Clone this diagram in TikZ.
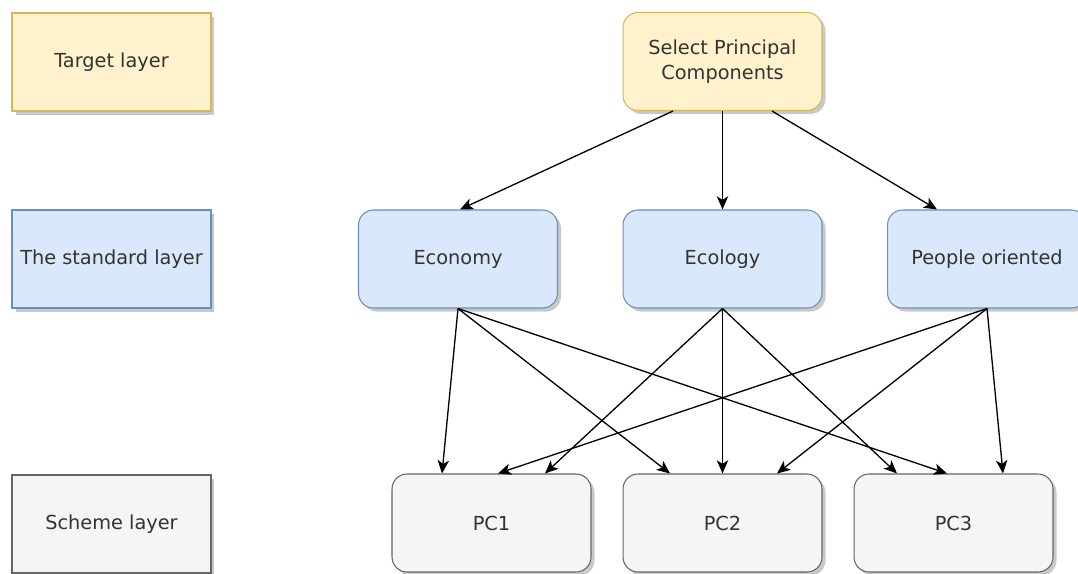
\documentclass[tikz,border=0pt]{standalone}
\usepackage{fontspec}
\setmainfont{DejaVu Sans}
\usetikzlibrary{arrows.meta,shadows}

\definecolor{yelfill}{HTML}{FFF2CC}
\definecolor{yeldraw}{HTML}{D6B656}
\definecolor{bluefill}{HTML}{DAE8FC}
\definecolor{bluedraw}{HTML}{6C8EBF}
\definecolor{grayfill}{HTML}{F5F5F5}
\definecolor{graydraw}{HTML}{666666}
\definecolor{txtgray}{HTML}{333333}

\begin{document}
\begin{tikzpicture}[x=0.02cm, y=-0.02cm, font=\fontsize{11pt}{14pt}\selectfont]

\tikzstyle{box} = [rectangle, text centered, align=center, minimum width=3.98cm, minimum height=1.96cm, inner sep=1pt, drop shadow={shadow xshift=2pt, shadow yshift=-2pt, opacity=0.3, fill=black!70}]
\tikzstyle{layer} = [box, line width=1.6pt]
\tikzstyle{item} = [box, rounded corners=0.3cm, line width=0.6pt]
\tikzstyle{target} = [fill=yelfill, draw=yeldraw, text=txtgray]
\tikzstyle{standard} = [fill=bluefill, draw=bluedraw, text=txtgray]
\tikzstyle{scheme} = [fill=grayfill, draw=graydraw, text=txtgray]

\tikzstyle{arrow} = [line width=0.75pt, -{Stealth[length=7.5pt, width=6.5pt, inset=2pt]}]

\useasboundingbox (0,0) rectangle (1078,574);

% layers on the left
\node (tl) [layer, target] at (111.5,62) {Target layer};
\node (sl) [layer, standard] at (111.5,259) {The standard layer};
\node (ml) [layer, scheme] at (111.5,524) {Scheme layer};

% target
\node (sel) [item, target] at (722.5,61.5) {Select Principal\\Components};

% standards
\node (eco) [item, standard] at (458,259) {Economy};
\node (ecl) [item, standard] at (722.5,259) {Ecology};
\node (peo) [item, standard] at (987,259) {People oriented};

% schemes
\node (pc1) [item, scheme] at (491.5,523) {PC1};
\node (pc2) [item, scheme] at (722.5,523) {PC2};
\node (pc3) [item, scheme] at (953.5,523) {PC3};

\draw [arrow] ([xshift=-0.99cm]sel.south) -- ([xshift=0.04cm]eco.north);
\draw [arrow] (sel.south) -- (ecl.north);
\draw [arrow] ([xshift=0.99cm]sel.south) -- ([xshift=-1cm]peo.north);

\draw [arrow] (eco.south) -- ([xshift=-0.99cm]pc1.north);
\draw [arrow] (eco.south) -- ([xshift=-1.05cm]pc2.north);
\draw [arrow] (eco.south) -- ([xshift=-0.13cm]pc3.north);

\draw [arrow] (ecl.south) -- ([xshift=1.07cm]pc1.north);
\draw [arrow] (ecl.south) -- (pc2.north);
\draw [arrow] (ecl.south) -- ([xshift=-1.13cm]pc3.north);

\draw [arrow] (peo.south) -- ([xshift=0.13cm]pc1.north);
\draw [arrow] (peo.south) -- ([xshift=1.09cm]pc2.north);
\draw [arrow] (peo.south) -- ([xshift=0.99cm]pc3.north);

\end{tikzpicture}
\end{document}
